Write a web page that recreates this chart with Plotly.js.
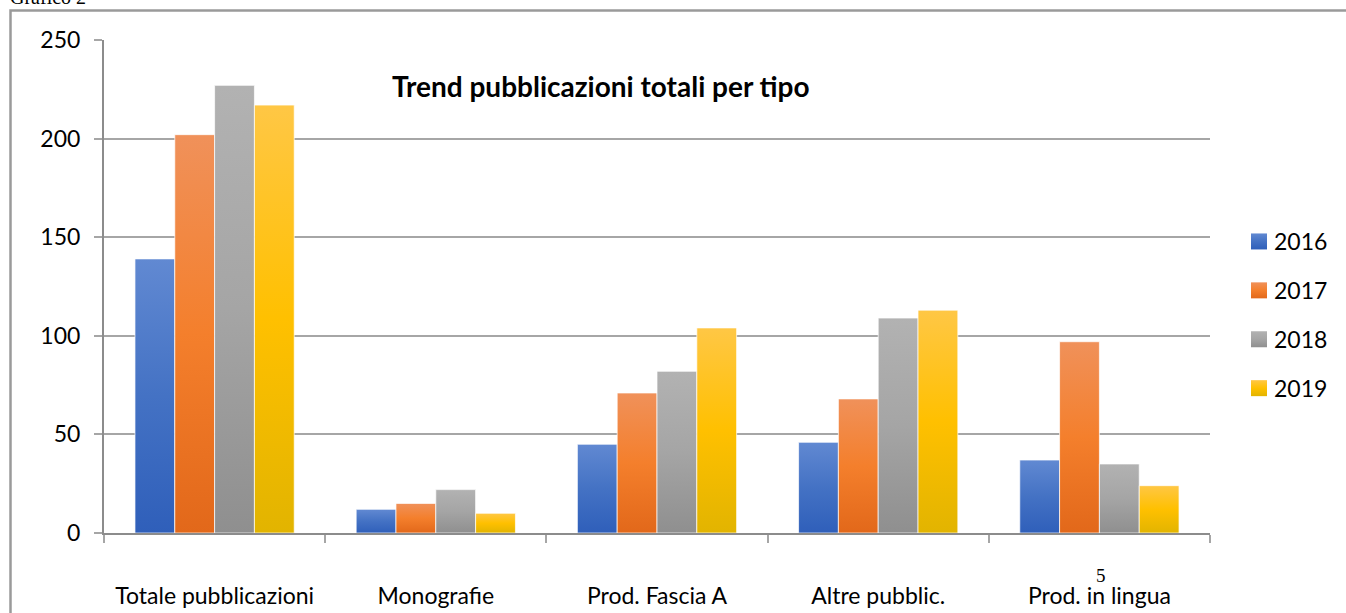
<!DOCTYPE html>
<html>
<head>
<meta charset="utf-8">
<script src="https://cdn.plot.ly/plotly-3.0.1.min.js"></script>
<style>
  html, body { margin: 0; padding: 0; background: #ffffff; }
  #chart { width: 1346px; height: 613px; }
</style>
</head>
<body>
<div id="chart"></div>
<script>
// ---- data ----
const categories = ['Totale pubblicazioni', 'Monografie', 'Prod. Fascia A', 'Altre pubblic.', 'Prod. in lingua'];
const years = ['2016', '2017', '2018', '2019'];
const v2016 = [139, 12, 45, 46, 37];
const v2017 = [202, 15, 71, 68, 97];
const v2018 = [227, 22, 82, 109, 35];
const v2019 = [217, 10, 104, 113, 24];
const yTicks = [0, 50, 100, 150, 200, 250];
const chartTitle = 'Trend pubblicazioni totali per tipo';
const captionText = 'Grafico 2';
const pageNumber = '5';

const series = [v2016, v2017, v2018, v2019];
const baseColors = ['#4472C4', '#ED7D31', '#A5A5A5', '#FFC000'];
const gradients = [
  ['#6189d2', '#4472c4', '#2f5fba'],
  ['#f0915a', '#f47f2c', '#e2681a'],
  ['#b2b2b2', '#a5a5a5', '#8f8f8f'],
  ['#ffc745', '#ffc000', '#e2b400']
];

const FONT = 'Lato, "Open Sans", "DejaVu Sans", sans-serif';
const TICK_SIZE = 23;

const traces = series.map((vals, i) => ({
  type: 'bar',
  name: years[i],
  x: categories,
  y: vals,
  legendgroup: 'g' + i,
  marker: { color: baseColors[i], line: { color: 'rgba(255,255,255,0.7)', width: 1 } },
  hoverinfo: 'none'
}));

// plot area: x 104..1210, y 40..533
const L = 104, R = 1346 - 1210, T = 40, B = 613 - 533;
const PW = 1346 - L - R, PH = 613 - T - B;
const px = (x) => (x - L) / PW;
const py = (y) => (613 - B - y) / PH;

const layout = {
  width: 1346,
  height: 613,
  margin: { l: L, r: R, t: T, b: B, pad: 0 },
  paper_bgcolor: '#ffffff',
  plot_bgcolor: '#ffffff',
  font: { family: FONT, size: TICK_SIZE, color: '#000000' },
  barmode: 'group',
  bargap: 0.28,
  bargroupgap: 0,
  showlegend: true,
  legend: {
    x: px(1234), xanchor: 'left',
    y: py(315), yanchor: 'middle',
    font: { family: FONT, size: TICK_SIZE, color: '#000000' },
    tracegroupgap: 16,
    bgcolor: 'rgba(0,0,0,0)'
  },
  xaxis: {
    type: 'category',
    showline: true, linecolor: '#8c8c8c', linewidth: 2,
    ticks: 'outside', tickson: 'boundaries', ticklen: 8, tickcolor: '#a6a6a6', tickwidth: 2,
    ticklabelstandoff: 41,
    tickfont: { family: FONT, size: TICK_SIZE, color: '#000000' },
    showgrid: false, zeroline: false,
    fixedrange: true
  },
  yaxis: {
    range: [0, 250],
    tickvals: yTicks,
    ticktext: yTicks.map(String),
    showline: true, linecolor: '#8c8c8c', linewidth: 2,
    ticks: 'outside', ticklen: 8, tickcolor: '#a6a6a6', tickwidth: 2,
    ticklabelstandoff: 9,
    showgrid: true, gridcolor: '#a6a6a6', gridwidth: 1.5,
    zeroline: false,
    tickfont: { family: FONT, size: TICK_SIZE, color: '#000000' },
    fixedrange: true
  },
  annotations: [
    {
      text: '<b>' + chartTitle + '</b>',
      xref: 'paper', yref: 'paper',
      x: px(390), xanchor: 'left',
      y: py(86), yanchor: 'middle',
      showarrow: false,
      font: { family: FONT, size: 28, color: '#000000' }
    },
    {
      text: captionText,
      xref: 'paper', yref: 'paper',
      x: px(8), xanchor: 'left',
      y: py(-3), yanchor: 'middle',
      showarrow: false,
      font: { family: '"Liberation Serif", "Times New Roman", serif', size: 20, color: '#000000' }
    },
    {
      text: pageNumber,
      xref: 'paper', yref: 'paper',
      x: px(1101), xanchor: 'center',
      y: py(575), yanchor: 'middle',
      showarrow: false,
      font: { family: '"Liberation Serif", "Times New Roman", serif', size: 19, color: '#000000' }
    }
  ],
  shapes: [
    {
      type: 'rect', xref: 'paper', yref: 'paper', layer: 'below',
      x0: px(10.5), x1: px(1360), y0: py(640), y1: py(10.5),
      line: { color: '#9a9a9a', width: 2.5 },
      fillcolor: 'rgba(0,0,0,0)'
    }
  ]
};

const gd = document.getElementById('chart');
Plotly.newPlot(gd, traces, layout, { displayModeBar: false, responsive: false }).then(() => {
  const svg = gd.querySelector('svg.main-svg');
  const NS = 'http://www.w3.org/2000/svg';
  let defs = svg.querySelector('defs');
  if (!defs) { defs = document.createElementNS(NS, 'defs'); svg.insertBefore(defs, svg.firstChild); }
  gradients.forEach((stops, i) => {
    const lg = document.createElementNS(NS, 'linearGradient');
    lg.setAttribute('id', 'bargrad' + i);
    lg.setAttribute('x1', '0'); lg.setAttribute('y1', '0');
    lg.setAttribute('x2', '0'); lg.setAttribute('y2', '1');
    [0, 0.5, 1].forEach((off, k) => {
      const s = document.createElementNS(NS, 'stop');
      s.setAttribute('offset', off);
      s.setAttribute('stop-color', stops[k]);
      lg.appendChild(s);
    });
    defs.appendChild(lg);
  });
  gd.querySelectorAll('.barlayer .trace').forEach((tr, i) => {
    tr.querySelectorAll('path').forEach(p => { p.style.fill = 'url(#bargrad' + i + ')'; });
  });
  // legend swatch: 16px square, shifted right towards the label as in the reference
  const c = 25, h = 8;
  gd.querySelectorAll('.legend .traces').forEach((tr, i) => {
    tr.querySelectorAll('.legendpoints path').forEach(p => {
      p.setAttribute('d', 'M' + (c + h) + ',' + h + 'H' + (c - h) + 'V' + (-h) + 'H' + (c + h) + 'Z');
      p.removeAttribute('transform');
      p.style.fill = 'url(#bargrad' + i + ')';
      p.style.stroke = 'none';
    });
  });
});
</script>
</body>
</html>
